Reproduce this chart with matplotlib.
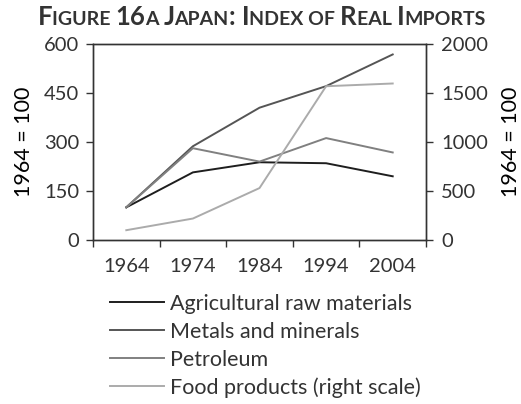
#!/usr/bin/env python3
# Japan: index of real imports, 1964 = 100
import matplotlib
matplotlib.use('Agg')
import matplotlib.pyplot as plt
import numpy as np

plt.rcParams['font.family'] = ['Lato', 'DejaVu Sans']
plt.rcParams['text.color'] = '#333333'
plt.rcParams['axes.edgecolor'] = '#333333'
plt.rcParams['xtick.color'] = '#333333'
plt.rcParams['ytick.color'] = '#333333'

years = ['1964', '1974', '1984', '1994', '2004']
agri = [100, 207, 238, 235, 195]
metals = [100, 287, 405, 471, 568]
petroleum = [100, 281, 240, 312, 268]
food = [100, 219, 530, 1569, 1597]   # right scale

left_ticks = [0, 150, 300, 450, 600]
right_ticks = [0, 500, 1000, 1500, 2000]

tick_fs = 14.5
leg_fs = 15.5
lab_fs = 15.5

fig = plt.figure(figsize=(5.21, 4.04), dpi=100)
ax = fig.add_axes([93/521, 1-240/404, 333/521, 196/404])
ax2 = ax.twinx()

x = np.arange(len(years))
l1, = ax.plot(x, agri, color='#1e1e1e', lw=1.4, label='Agricultural raw materials')
l2, = ax.plot(x, metals, color='#555555', lw=1.4, label='Metals and minerals')
l3, = ax.plot(x, petroleum, color='#808080', lw=1.4, label='Petroleum')
l4, = ax2.plot(x, food, color='#ababab', lw=1.4, label='Food products (right scale)')

ax.set_xlim(-0.5, len(years) - 0.5)
ax.set_ylim(0, 600)
ax2.set_ylim(0, 2000)
ax.set_yticks(left_ticks)
ax2.set_yticks(right_ticks)

# ticks between categories, labels centred on them
ax.set_xticks(np.arange(-0.5, len(years)))
ax.set_xticklabels([])
ax.set_xticks(x, minor=True)
ax.set_xticklabels(years, minor=True)
ax.tick_params(axis='x', which='minor', length=0, pad=13, labelsize=tick_fs)
ax.tick_params(axis='x', which='major', length=5, width=1)
ax.tick_params(axis='y', length=5, width=1, pad=5, labelsize=tick_fs)
ax2.tick_params(axis='y', length=5, width=1, pad=6, labelsize=tick_fs)

for a in (ax, ax2):
    for s in a.spines.values():
        s.set_linewidth(1)

ax.set_ylabel('1964 = 100', fontsize=lab_fs, labelpad=7)
ax2.set_ylabel('1964 = 100', fontsize=lab_fs, labelpad=9)

fig.legend(handles=[l1, l2, l3, l4], loc='upper left',
           bbox_to_anchor=(110/521, 1-294/404), frameon=False,
           fontsize=leg_fs, handlelength=2.5, handletextpad=0.28,
           labelspacing=0.36, borderpad=0, borderaxespad=0)

# small-caps title built from pieces
pieces = [('F', 1), ('IGURE ', 0), ('16', 1), ('A ', 0), ('J', 1), ('APAN', 0),
          (': I', 1), ('NDEX OF ', 0), ('R', 1), ('EAL ', 0), ('I', 1), ('MPORTS', 0)]
big, small = 18.5, 14
fig.canvas.draw()
r = fig.canvas.get_renderer()
texts = []
for s, b in pieces:
    t = fig.text(0, 1-25/404, s, fontsize=big if b else small, fontweight='bold',
                 ha='left', va='baseline')
    texts.append(t)
widths = [t.get_window_extent(r).width for t in texts]
xpos = (521 - sum(widths)) / 2 + 1
for t, w in zip(texts, widths):
    t.set_x(xpos / 521)
    xpos += w

fig.savefig('out.png', dpi=100)
